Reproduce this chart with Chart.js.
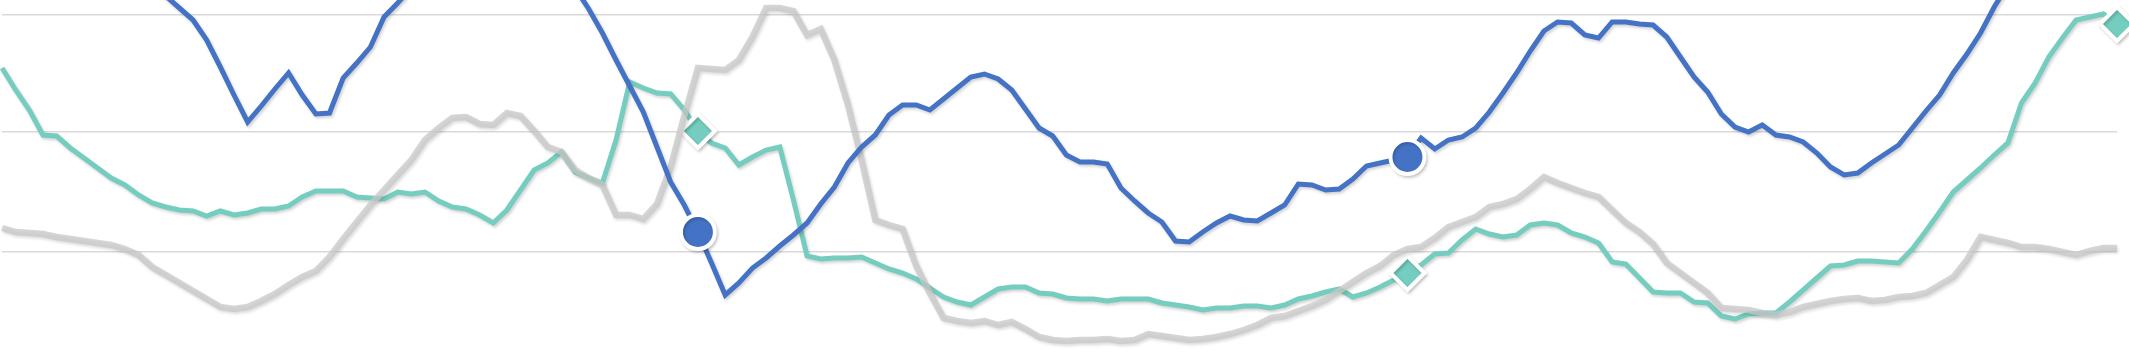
<!DOCTYPE html>
<html>
<head>
<meta charset="utf-8">
<script src="https://cdn.jsdelivr.net/npm/chart.js@4.4.1/dist/chart.umd.min.js"></script>
<style>
  html, body { margin: 0; padding: 0; background: #fff; }
  #wrap { width: 2129px; height: 353px; position: relative; }
</style>
</head>
<body>
<div id="wrap"><canvas id="chart"></canvas></div>
<script>
// three years of weekly points, the last week of each year is marked
const yearLabels = ['Y1', 'Y2', 'Y3'];
const weeksPerYear = 52;

// horizontal grid levels (no tick labels in the picture)
const gridLevels = [0, 120, 237];

// values (units: px above the lowest grid line)
const blueSeries = [
  362, 352, 342, 332, 322, 312, 302, 294, 286, 278, 270, 263, 256, 244, 232, 212, 185, 157, 130, 146,
  163, 179, 157, 138, 139, 174, 189, 205, 235, 249, 264, 280, 297, 310, 320, 326, 328, 326, 320, 310,
  297, 282, 264, 243, 219, 192, 166, 140, 105, 70, 47, 20, -11, -43, -31, -16, -6, 6, 17, 29,
  48, 65, 89, 105, 117, 137, 147, 147, 142, 153, 164, 175, 178, 173, 162, 143, 124, 116, 97, 90,
  90, 88, 64, 51, 39, 30, 11, 10, 20, 29, 36, 32, 31, 39, 47, 68, 67, 62, 63, 73,
  86, 89, 92, 95, 114, 103, 112, 115, 124, 140, 159, 179, 201, 221, 230, 229, 217, 214, 230, 230,
  228, 227, 215, 195, 175, 160, 138, 125, 120, 127, 117, 115, 110, 99, 85, 77, 79, 89, 98, 107,
  124, 141, 157, 179, 198, 219, 245, 267, 290, 312, 332, 350, 367, 382, 397, 412
];

const tealSeries = [
  184, 162, 142, 117, 116, 104, 94, 84, 74, 67, 57, 49, 45, 42, 41, 36, 41, 37, 39, 43,
  43, 46, 55, 61, 61, 61, 55, 54, 53, 60, 58, 60, 51, 45, 43, 37, 29, 42, 62, 82,
  89, 100, 80, 74, 69, 112, 170, 164, 159, 158, 142, 121, 109, 104, 87, 95, 102, 105, 52, -4,
  -7, -6, -6, -5, -11, -17, -21, -27, -36, -45, -50, -53, -45, -37, -35, -35, -41, -42, -46, -47,
  -47, -49, -47, -47, -47, -51, -53, -55, -58, -56, -56, -54, -54, -56, -53, -47, -44, -40, -37, -45,
  -41, -35, -28, -21, -13, -2, -1, 12, 23, 18, 15, 17, 27, 29, 27, 19, 15, 9, -10, -12,
  -26, -40, -41, -41, -50, -51, -64, -67, -62, -61, -61, -50, -38, -26, -14, -13, -9, -9, -10, -11,
  3, 21, 40, 60, 72, 84, 97, 109, 149, 169, 195, 214, 232, 235, 238, 228
];

const greySeries = [
  24, 20, 19, 18, 15, 13, 11, 9, 7, 3, -3, -15, -23, -31, -39, -47, -55, -57, -55, -49,
  -42, -33, -25, -19, -5, 13, 30, 47, 62, 77, 92, 112, 124, 134, 135, 128, 127, 139, 136, 121,
  105, 100, 82, 74, 67, 37, 37, 33, 48, 85, 136, 184, 183, 182, 192, 215, 244, 244, 241, 217,
  223, 192, 147, 92, 32, 27, 23, -14, -41, -66, -69, -71, -69, -73, -70, -77, -85, -88, -89, -88,
  -88, -87, -89, -88, -82, -84, -86, -88, -87, -85, -82, -78, -73, -66, -64, -59, -54, -48, -39, -30,
  -21, -14, -3, 3, 5, 14, 25, 30, 35, 45, 48, 53, 63, 75, 69, 64, 59, 55, 42, 29,
  20, 8, -11, -21, -31, -41, -56, -57, -58, -61, -63, -60, -55, -52, -49, -47, -46, -49, -48, -45,
  -44, -41, -33, -25, -8, 15, 12, 9, 5, 5, 3, 0, -3, 1, 4, 4
];

// week labels: one per point
const weekLabels = [];
yearLabels.forEach(y => {
  for (let w = 1; w <= weeksPerYear; w++) weekLabels.push(y + ' W' + w);
});
// markers on the last week of each year
const markerIdx = yearLabels.map((y, i) => (i + 1) * weeksPerYear - 1);

const markerSize = (r) => (ctx) => markerIdx.includes(ctx.dataIndex) ? r : 0;

// soft shadow under every line, like the original
const shadowPlugin = {
  id: 'lineShadow',
  beforeDatasetDraw(chart) {
    const c = chart.ctx;
    c.save();
    c.shadowColor = 'rgba(0,0,0,0.18)';
    c.shadowBlur = 3;
    c.shadowOffsetX = 1.5;
    c.shadowOffsetY = 2;
  },
  afterDatasetDraw(chart) {
    chart.ctx.restore();
  }
};

new Chart(document.getElementById('chart'), {
  type: 'line',
  data: {
    labels: weekLabels,
    datasets: [
      {
        label: 'Blue',
        data: blueSeries,
        borderColor: '#4472C4',
        borderWidth: 5,
        pointStyle: 'circle',
        pointRadius: markerSize(17),
        pointBackgroundColor: '#4472C4',
        pointBorderColor: '#ffffff',
        pointBorderWidth: 4,
        clip: false,
        order: 0
      },
      {
        label: 'Grey',
        data: greySeries,
        borderColor: 'rgba(200,200,200,0.75)',
        borderWidth: 6.5,
        pointRadius: 0,
        clip: false,
        order: 1
      },
      {
        label: 'Teal',
        data: tealSeries,
        borderColor: '#74CDBF',
        borderWidth: 5,
        pointStyle: 'rectRot',
        pointRadius: markerSize(17),
        pointBackgroundColor: '#74CDBF',
        pointBorderColor: '#ffffff',
        pointBorderWidth: 4,
        clip: false,
        order: 2
      }
    ]
  },
  options: {
    responsive: true,
    maintainAspectRatio: false,
    animation: false,
    layout: { autoPadding: false, padding: { left: 2, right: 12, top: 0, bottom: 0 } },
    plugins: { legend: { display: false }, tooltip: { enabled: false } },
    elements: { line: { tension: 0 } },
    scales: {
      x: { display: false, offset: false },
      y: {
        min: -101,
        max: 252,
        border: { display: false },
        ticks: { display: false },
        grid: { color: '#d9d9d9', lineWidth: 1.5, drawTicks: false },
        afterFit: (axis) => { axis.width = 0; },
        afterBuildTicks: (axis) => {
          axis.ticks = gridLevels.map(v => ({ value: v }));
        }
      }
    }
  },
  plugins: [shadowPlugin]
});
</script>
</body>
</html>
